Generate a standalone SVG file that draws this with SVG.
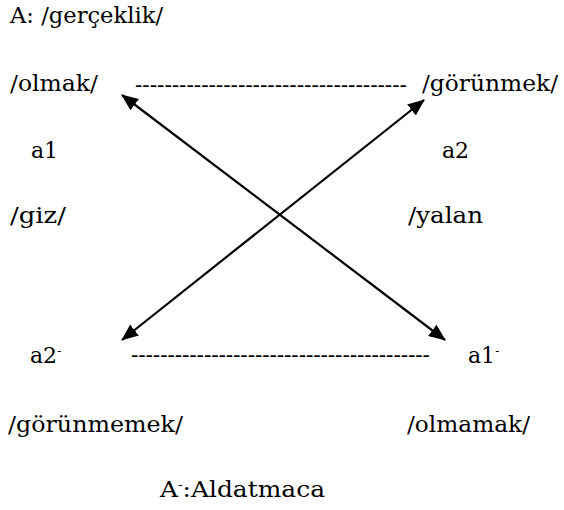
<svg xmlns="http://www.w3.org/2000/svg" width="564" height="510" viewBox="0 0 564 510">
<style>
  text { font-family: "DejaVu Serif", "Liberation Serif", serif; font-size: 22px; fill: #000; }
  .dash { font-size: 22px; }
  .sup { font-size: 12px; }
  .conn { stroke: #000; stroke-width: 2.2; fill: none; }
</style>
<defs>
  <marker id="ah" markerUnits="userSpaceOnUse" markerWidth="18" markerHeight="14" viewBox="0 0 18 14" refX="16" refY="7" orient="auto-start-reverse">
    <path d="M0,0 L17,7 L0,14 Z" fill="#000"/>
  </marker>
</defs>
<rect width="564" height="510" fill="#fff"/>
<g id="title"><text x="10" y="23" textLength="153" lengthAdjust="spacingAndGlyphs">A: /gerçeklik/</text></g>
<g id="olmak"><text x="10" y="91" textLength="88" lengthAdjust="spacingAndGlyphs">/olmak/</text></g>
<g id="gorunmek"><text x="422" y="91" textLength="136" lengthAdjust="spacingAndGlyphs">/görünmek/</text></g>
<g id="a1"><text x="31" y="158">a1</text></g>
<g id="a2"><text x="442" y="158">a2</text></g>
<g id="giz"><text x="10" y="223" textLength="56" lengthAdjust="spacingAndGlyphs">/giz/</text></g>
<g id="yalan"><text x="408" y="223" textLength="75" lengthAdjust="spacingAndGlyphs">/yalan</text></g>
<g id="a2neg"><text x="30" y="363">a2<tspan class="sup" dy="-8">-</tspan></text></g>
<g id="a1neg"><text x="468" y="363">a1<tspan class="sup" dy="-8">-</tspan></text></g>
<g id="gorunmemek"><text x="8" y="432" textLength="175" lengthAdjust="spacingAndGlyphs">/görünmemek/</text></g>
<g id="olmamak"><text x="407" y="432" textLength="123" lengthAdjust="spacingAndGlyphs">/olmamak/</text></g>
<g id="aldatmaca"><text x="160" y="497" textLength="165" lengthAdjust="spacingAndGlyphs">A<tspan class="sup" dy="-8">-</tspan><tspan dy="8">:Aldatmaca</tspan></text></g>
<g id="connectors">
  <text class="dash" x="135" y="92" textLength="272" lengthAdjust="spacing">-------------------------------------</text>
  <text class="dash" x="131" y="362" textLength="299" lengthAdjust="spacing">-----------------------------------------</text>
  <line class="conn" x1="122" y1="95" x2="445" y2="340" marker-start="url(#ah)" marker-end="url(#ah)"/>
  <line class="conn" x1="122" y1="340" x2="424" y2="100" marker-start="url(#ah)" marker-end="url(#ah)"/>
</g>
</svg>
